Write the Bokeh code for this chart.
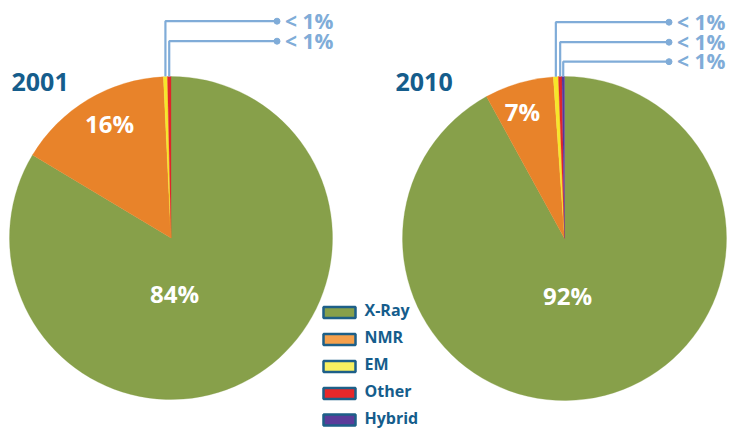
import math
from bokeh.plotting import figure
from bokeh.models import Range1d
from bokeh.core.properties import value
from bokeh.embed import file_html
from bokeh.resources import INLINE

# ---- data ----
categories = ["X-Ray", "NMR", "EM", "Other", "Hybrid"]
share_2001 = [83.6, 15.65, 0.4, 0.35, 0.0]
share_2010 = [92.0, 6.9, 0.5, 0.35, 0.25]
years = ["2001", "2010"]
big_labels_2001 = ["84%", "16%"]
big_labels_2010 = ["92%", "7%"]
small_label = "< 1%"

# ---- styles ----
pie_colors = ["#87a04a", "#e8832a", "#f7e62a", "#e0262a", "#55389a"]
legend_colors = ["#87a04a", "#f5a04c", "#f8f060", "#e8282a", "#5a3c9a"]
dark_blue = "#155d8c"
callout_blue = "#80acd8"
FONT = value("Open Sans")

W, H = 729, 430
TXT_SHIFT = 8  # empirical correction of the rendered text baseline


def X(x):
    return x


def Y(y):
    return H - y


def YT(y):
    return H - (y - TXT_SHIFT)


p = figure(width=W, height=H, output_backend="svg", toolbar_location=None,
           x_range=Range1d(0, W), y_range=Range1d(0, H), min_border=0)
p.axis.visible = False
p.grid.visible = False
p.outline_line_color = None
p.background_fill_color = "white"
p.border_fill_color = "white"


def draw_pie(cx, cy, r, shares, labels, label_pos, year, year_pos, levels, dot_x):
    cum = 0.0
    small = []
    for i, s in enumerate(shares):
        if s <= 0:
            continue
        a0 = math.pi / 2 - 2 * math.pi * cum / 100.0
        a1 = math.pi / 2 - 2 * math.pi * (cum + s) / 100.0
        p.wedge(x=[X(cx)], y=[Y(cy)], radius=r, start_angle=a0, end_angle=a1,
                direction="clock", fill_color=pie_colors[i],
                line_color=pie_colors[i], line_width=0.3)
        if s < 1:
            mid = (a0 + a1) / 2
            small.append((X(cx) + r * math.cos(mid), Y(cy) + r * math.sin(mid)))
        cum += s
    # callouts
    for (sx, sy), lv in zip(small, levels):
        p.line([sx, sx, X(dot_x)], [sy, Y(lv), Y(lv)], line_color=callout_blue,
               line_width=2.2)
        p.scatter([X(dot_x)], [Y(lv)], size=6, fill_color=callout_blue,
                  line_color=callout_blue)
        p.text([X(dot_x) + 8], [YT(lv + 7.5)], text=[small_label],
               text_font=FONT, text_font_style="bold", text_font_size="21px",
               text_color=callout_blue, text_align="left",
               text_baseline="alphabetic")
    # big labels
    for lab, (lx, ly) in zip(labels, label_pos):
        p.text([X(lx)], [YT(ly)], text=[lab], text_font=FONT,
               text_font_style="bold", text_font_size="24px",
               text_color="white", text_align="center",
               text_baseline="alphabetic")
    p.text([X(year_pos[0])], [YT(year_pos[1])], text=[year], text_font=FONT,
           text_font_style="bold", text_font_size="25px", text_color=dark_blue,
           text_align="left", text_baseline="alphabetic")


draw_pie(170.5, 237.5, 161.5, share_2001, big_labels_2001,
         [(174, 301), (109, 130.5)], years[0], (11, 89),
         [20.7, 40.7], 276.5)
draw_pie(564, 238, 162, share_2010, big_labels_2010,
         [(567, 302.5), (522, 118.5)], years[1], (395, 89),
         [21.7, 41.7, 61.2], 668.5)

# legend
leg_x0, leg_w, leg_h = 323, 32, 11
leg_y = [312, 339, 366, 393, 419.5]
for cat, col, ly in zip(categories, legend_colors, leg_y):
    p.rect(x=[X(leg_x0 + leg_w / 2)], y=[Y(ly)], width=leg_w, height=leg_h,
           fill_color=col, line_color="#1d5f88", line_width=2.5)
    p.text([X(364)], [YT(ly + 5.5)], text=[cat], text_font=FONT,
           text_font_style="bold", text_font_size="16px", text_color=dark_blue,
           text_align="left", text_baseline="alphabetic")

open("out.html", "w").write(file_html(p, INLINE))
